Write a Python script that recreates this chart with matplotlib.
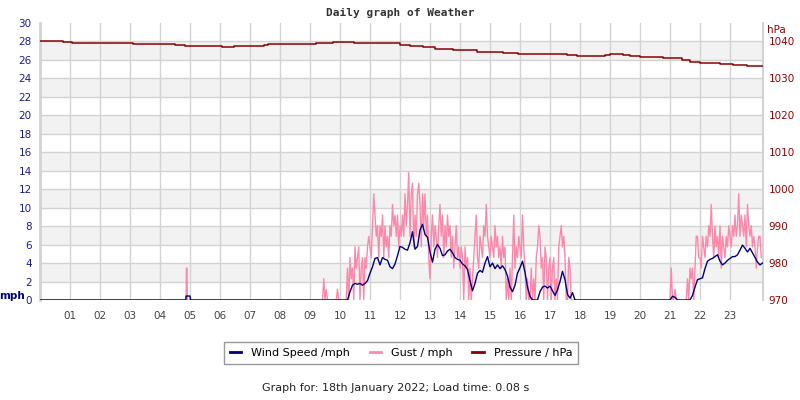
import numpy as np
import matplotlib
matplotlib.use("Agg")
import matplotlib.pyplot as plt
from matplotlib.lines import Line2D

# ---------------- data ----------------
hour_ticks = list(range(1, 24))
hour_labels = ["%02d" % h for h in hour_ticks]
mph_ticks = list(range(0, 31, 2))
hpa_ticks = [970, 980, 990, 1000, 1010, 1020, 1030, 1040]

# gust (mph), 2.5-minute samples, one list per active hour
gust_step = 1 / 24.0
gust_h09 = [0, 0, 0, 0, 0, 0, 0, 0, 0, 0, 0, 2.3, 0, 1.15, 0, 0, 0, 0, 0, 0, 0, 0, 1.15, 0]
gust_h10 = [0, 0, 0, 0, 0, 0, 3.45, 0, 4.6, 2.3, 3.45, 0, 5.75, 3.45, 4.6, 5.75, 0, 3.45,
            4.6, 0, 4.6, 3.45, 5.75, 6.9]
gust_h11 = [5.75, 4.6, 8.05, 11.5, 9.2, 6.9, 8.05, 4.6, 8.05, 6.9, 9.2, 4.6, 8.05, 5.75,
            6.9, 4.6, 8.05, 6.9, 10.35, 8.05, 9.2, 6.9, 9.2, 5.75]
gust_h12 = [8.05, 6.9, 9.2, 6.9, 11.5, 8.05, 10.35, 13.8, 6.9, 11.5, 12.65, 5.75, 9.2, 6.9,
            11.5, 12.65, 10.35, 5.75, 11.5, 8.05, 11.5, 6.9, 9.2, 4.6]
gust_h13 = [2.3, 6.9, 9.2, 5.75, 8.05, 6.9, 4.6, 8.05, 10.35, 6.9, 9.2, 4.6, 8.05, 5.75,
            9.2, 6.9, 8.05, 4.6, 6.9, 3.45, 5.75, 8.05, 4.6, 5.75]
gust_h14 = [3.45, 5.75, 4.6, 0, 5.75, 3.45, 4.6, 0, 3.45, 0, 2.3, 4.6, 6.9, 9.2, 4.6, 3.45,
            6.9, 5.75, 4.6, 8.05, 6.9, 10.35, 6.9, 5.75]
gust_h15 = [4.6, 6.9, 5.75, 4.6, 8.05, 5.75, 6.9, 4.6, 5.75, 3.45, 6.9, 4.6, 5.75, 0, 2.3,
            0, 3.45, 0, 4.6, 9.2, 3.45, 5.75, 4.6, 6.9]
gust_h16 = [5.75, 4.6, 9.2, 5.75, 3.45, 0, 2.3, 0, 0, 3.45, 0, 2.3, 0, 4.6, 5.75, 8.05,
            6.9, 3.45, 4.6, 0, 5.75, 4.6, 0, 3.45]
gust_h17 = [4.6, 0, 3.45, 4.6, 0, 2.3, 0, 5.75, 6.9, 8.05, 5.75, 6.9, 4.6, 0, 0, 4.6, 3.45,
            0, 0, 0, 0, 0, 0, 0]
gust_h21 = [0, 3.45, 0, 0, 1.15, 0, 0, 0, 0, 0, 0, 0, 0, 0, 2.3, 0, 3.45, 2.3, 3.45, 0,
            3.45, 6.9, 6.9, 4.6]
gust_h22 = [4.6, 3.45, 6.9, 5.75, 4.6, 6.9, 5.75, 8.05, 6.9, 10.35, 6.9, 4.6, 8.05, 5.75,
            6.9, 4.6, 8.05, 3.45, 6.9, 5.75, 4.6, 6.9, 5.75, 8.05]
gust_h23 = [6.9, 5.75, 8.05, 6.9, 9.2, 6.9, 8.05, 11.5, 6.9, 9.2, 8.05, 6.9, 9.2, 5.75,
            10.35, 8.05, 6.9, 8.05, 5.75, 6.9, 5.75, 3.45, 5.75, 6.9]
gust_h24 = [6.9, 4.6]
gust_spike_time = [4.87, 4.88, 4.90, 4.91]
gust_spike = [0, 3.45, 3.45, 0]

# wind speed (mph), 5-minute samples
wind_step = 1 / 12.0
wind_a_start = 10.25
wind_a = [0, 0.9, 1.6, 1.8, 1.7, 1.8, 1.6, 1.8, 2.1,
          2.9, 3.6, 4.5, 4.6, 3.8, 4.6, 4.4, 4.3, 3.6, 3.4, 3.9, 4.8,
          5.8, 5.7, 5.5, 5.4, 6.2, 7.4, 5.5, 5.8, 7.6, 8.2, 7.1, 6.8,
          5.2, 4.1, 5.5, 6.0, 5.6, 4.8, 4.9, 5.3, 5.5, 5.1, 4.6, 4.4,
          4.3, 3.9, 3.7, 3.3, 2.1, 1.0, 1.8, 2.9, 3.2, 3.0, 4.0, 4.7,
          3.6, 4.0, 3.4, 3.8, 3.4, 3.7, 3.3, 2.6, 1.4, 0.9, 1.6, 2.9,
          3.5, 4.2, 3.0, 1.4, 0.4, 0, 0, 0, 0.9, 1.4, 1.5, 1.3,
          1.5, 1.0, 0.5, 1.1, 2.0, 3.1, 2.2, 0.6, 0.2, 0.8, 0, 0,
          0]
wind_b_start = 20 + 11 / 12.0
wind_b = [0,
          0, 0.4, 0.3, 0, 0, 0, 0, 0, 0, 0.5, 1.4, 2.2,
          2.3, 2.4, 3.4, 4.2, 4.4, 4.5, 4.7, 4.9, 4.2, 3.8, 4.0, 4.3,
          4.5, 4.7, 4.7, 4.9, 5.4, 5.95, 5.6, 5.2, 5.6, 5.1, 4.6, 4.1,
          3.8, 4.0]
wind_bump_time = [4.86, 4.87, 5.0, 5.02]
wind_bump = [0, 0.43, 0.43, 0]

# pressure (hPa), value from each change time
pres_time = [0, 0.78, 1.05, 3.1, 4.5, 4.83, 5.67, 6.05, 6.45, 7.45, 7.6, 9.2,
             9.78, 10.45, 12.0, 12.33, 12.78, 13.17, 13.78, 14.56, 15.44,
             15.94, 17.56, 17.89, 18.22, 18.83, 19.0, 19.44, 19.67, 20.0,
             20.78, 21.39, 21.67, 22.0, 22.67, 23.11, 23.56, 24.1]
pres_hpa = [1040.0, 1039.8, 1039.5, 1039.3, 1039.0, 1038.8, 1038.7, 1038.4,
            1038.8, 1039.0, 1039.3, 1039.5, 1039.8, 1039.5, 1039.1, 1038.8,
            1038.4, 1038.0, 1037.6, 1037.2, 1036.8, 1036.5, 1036.3, 1036.0,
            1036.1, 1036.3, 1036.6, 1036.3, 1036.1, 1035.9, 1035.4, 1035.0,
            1034.4, 1034.2, 1033.9, 1033.6, 1033.3, 1033.3]

x_end = 24.1

# ---------------- build series ----------------
def seg_times(start, n, step):
    return [start + i * step for i in range(n)]

gust_part_a = gust_h09 + gust_h10 + gust_h11 + gust_h12 + gust_h13 + gust_h14 + \
    gust_h15 + gust_h16 + gust_h17 + [0]
gust_part_b = gust_h21 + gust_h22 + gust_h23 + gust_h24
gust_t = ([0] + gust_spike_time + seg_times(9, len(gust_part_a), gust_step)
          + [20.96] + seg_times(21, len(gust_part_b), gust_step))
gust_v = [0] + gust_spike + gust_part_a + [0] + gust_part_b

wind_t = ([0] + wind_bump_time + seg_times(wind_a_start, len(wind_a), wind_step)
          + seg_times(wind_b_start, len(wind_b), wind_step))
wind_v = [0] + wind_bump + wind_a + wind_b

# ---------------- colors ----------------
c_wind = "#000080"
c_gust = "#FF88AA"
c_pres = "#8B0000"
c_left = "#1C1C96"
c_right = "#990000"
c_grid = "#D3D3D3"
c_band = "#F2F2F2"

plt.rcParams['font.family'] = ['DejaVu Sans']

fig = plt.figure(figsize=(8, 4), dpi=100)
ax = fig.add_axes([40 / 800, 1 - 300 / 400, 723 / 800, 277 / 400])
ax.set_xlim(0, x_end)
ax.set_ylim(0, 30)

for lo in range(2, 30, 4):
    ax.axhspan(lo, lo + 2, color=c_band, zorder=0, lw=0)
for y in mph_ticks[1:-1]:
    ax.axhline(y, color=c_grid, lw=1.0, zorder=1)
for h in hour_ticks:
    ax.axvline(h, color=c_grid, lw=1.0, zorder=1)

ax.plot(gust_t, gust_v, color=c_gust, lw=1.0, zorder=3)
ax.plot(wind_t, wind_v, color=c_wind, lw=1.0, zorder=4)

ax.set_xticks(hour_ticks)
ax.set_xticklabels(hour_labels)
ax.set_yticks(mph_ticks)
ax.tick_params(axis='x', length=0, pad=8, labelsize=7.5, labelcolor='#444444')
ax.tick_params(axis='y', length=0, pad=6, labelsize=7.5, labelcolor=c_left)
for s in ['top', 'bottom']:
    ax.spines[s].set_visible(False)
ax.spines['left'].set_color(c_grid)
ax.spines['left'].set_linewidth(2)
ax.spines['right'].set_color(c_grid)
ax.spines['right'].set_linewidth(1.5)

ax2 = ax.twinx()
ax2.set_ylim(970, 970 + 30 * 2.5)
ax2.set_yticks(hpa_ticks)
ax2.tick_params(axis='y', length=0, pad=4, labelsize=7.5, labelcolor=c_right)
for s in ax2.spines.values():
    s.set_visible(False)
ax2.plot(pres_time, pres_hpa, color=c_pres, lw=1.1, drawstyle='steps-post', zorder=5)

fig.text(400 / 800, 1 - 13 / 400, "Daily graph of Weather", ha='center', va='center',
         family='DejaVu Sans Mono', weight='bold', size=8, color='#333333')
fig.text(12 / 800, 1 - 296 / 400, "mph", ha='center', va='center',
         weight='bold', size=7.5, color=c_wind)
fig.text(776 / 800, 1 - 30 / 400, "hPa", ha='center', va='center',
         size=7.5, color=c_right)

handles = [Line2D([], [], color=c_wind, lw=2),
           Line2D([], [], color=c_gust, lw=2),
           Line2D([], [], color=c_pres, lw=2)]
labels = ["Wind Speed /mph", "Gust / mph", "Pressure / hPa"]
leg = fig.legend(handles, labels, loc='center', bbox_to_anchor=(401 / 800, 1 - 353 / 400),
                 ncol=3, fontsize=8, frameon=True, fancybox=False, handlelength=1.0,
                 columnspacing=1.8, handletextpad=0.9, borderpad=0.5)
leg.get_frame().set_edgecolor('#808080')
leg.get_frame().set_linewidth(1.0)

fig.text(396 / 800, 1 - 388 / 400, "Graph for: 18th January 2022; Load time: 0.08 s",
         ha='center', va='center', size=8, color='#222222')

fig.savefig("out.png", dpi=100)
